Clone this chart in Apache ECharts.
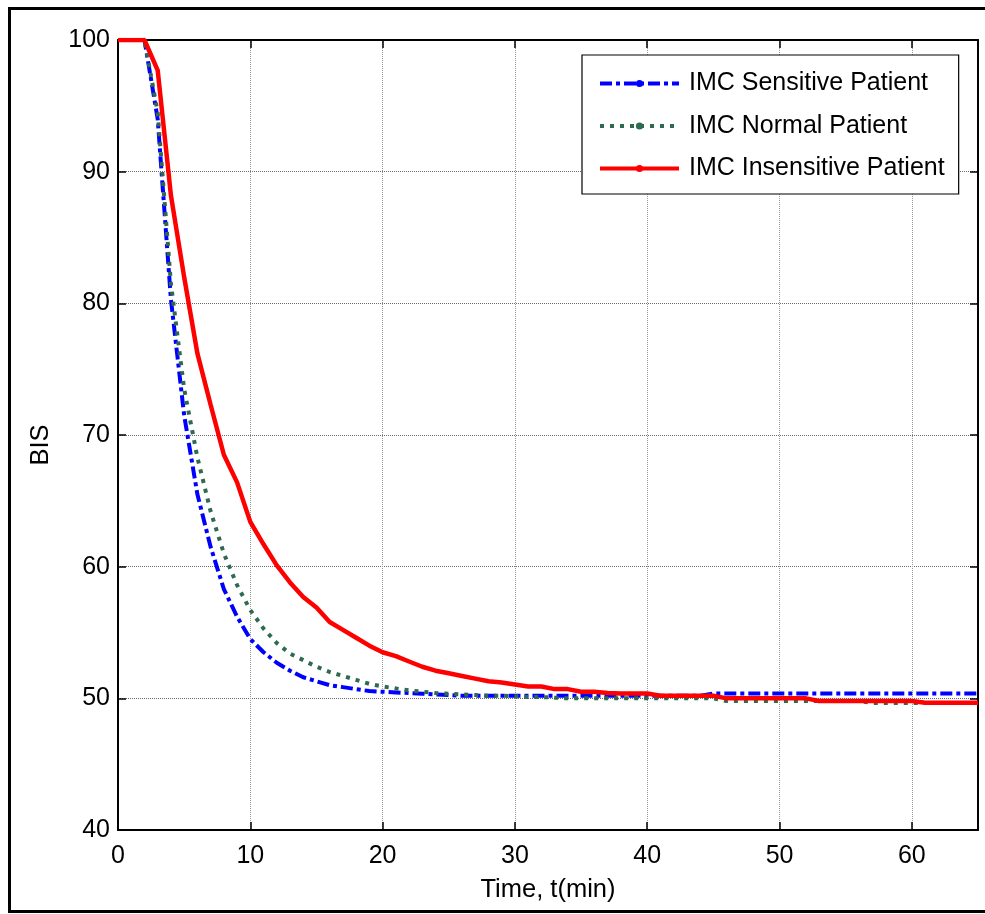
<!DOCTYPE html>
<html>
<head>
<meta charset="utf-8">
<script src="https://cdn.jsdelivr.net/npm/echarts@6/dist/echarts.min.js"></script>
<style>
html,body{margin:0;padding:0;background:#fff;}
#chart{width:985px;height:914px;}
</style>
</head>
<body>
<div id="chart"></div>
<script>
// Time (min)
var timeMin = [0,1,2,3,4,5,6,7,8,9,10,11,12,13,14,15,16,17,18,19,20,21,22,23,24,25,26,27,28,29,30,31,32,33,34,35,36,37,38,39,40,41,42,43,44,45,46,47,48,49,50,51,52,53,54,55,56,57,58,59,60,61,62,63,64,65];

var sensitiveBIS = [100,100,100,94,80.3,71.5,65.5,61.5,58.3,56.2,54.5,53.5,52.7,52.1,51.6,51.3,51.0,50.85,50.7,50.55,50.5,50.45,50.4,50.35,50.3,50.25,50.2,50.2,50.2,50.2,50.2,50.2,50.2,50.2,50.2,50.2,50.2,50.2,50.2,50.2,50.2,50.2,50.2,50.2,50.2,50.37,50.37,50.37,50.37,50.37,50.37,50.37,50.37,50.37,50.37,50.37,50.37,50.37,50.37,50.37,50.37,50.37,50.37,50.37,50.37,50.37];

var normalBIS = [100,100,100,94.5,81.5,73.5,68.3,64.2,61.0,58.6,56.7,55.3,54.2,53.4,52.9,52.4,52.0,51.7,51.4,51.1,50.9,50.75,50.6,50.5,50.4,50.35,50.3,50.25,50.2,50.2,50.15,50.1,50.1,50.05,50.0,50.0,50.0,50.0,50.0,50.0,50.0,50.0,50.0,50.0,50.0,50.0,49.8,49.8,49.8,49.8,49.8,49.8,49.8,49.8,49.8,49.8,49.8,49.65,49.65,49.65,49.65,49.65,49.65,49.65,49.65,49.65];

var insensitiveBIS = [100,100,100,97.7,88.2,82,76.2,72.3,68.5,66.4,63.4,61.7,60.1,58.8,57.7,56.9,55.8,55.2,54.6,54.0,53.5,53.2,52.8,52.4,52.1,51.9,51.7,51.5,51.3,51.2,51.05,50.9,50.9,50.7,50.7,50.5,50.5,50.4,50.37,50.37,50.37,50.2,50.2,50.2,50.2,50.2,50.0,50.0,50.0,50.0,50.0,50.0,50.0,49.8,49.8,49.8,49.8,49.8,49.8,49.8,49.8,49.66,49.66,49.66,49.66,49.66];

var seriesNames = ['IMC Sensitive Patient','IMC Normal Patient','IMC Insensitive Patient'];
var xTicks = {min:0, max:65, interval:10};
var yTicks = {min:40, max:100, interval:10};

function pairs(vals){ return timeMin.map(function(t,i){ return [t, vals[i]]; }); }

var FONT = "'Liberation Sans',Arial,sans-serif";
var chart = echarts.init(document.getElementById('chart'), null, {renderer:'canvas'});

var tickStyle = {inside:true, length:8, lineStyle:{color:'#000', width:1.5}};
var lineAx = {show:true, onZero:false, lineStyle:{color:'#000', width:2}};

chart.setOption({
  animation:false,
  backgroundColor:'#fff',
  textStyle:{fontFamily:FONT},
  grid:{left:118, right:7, top:40, bottom:84, containLabel:false},
  graphic:[{
    type:'rect', z:100, silent:true,
    shape:{x:9.5, y:8.5, width:1000, height:903},
    style:{fill:null, stroke:'#000', lineWidth:3}
  }],
  legend:{
    orient:'vertical', left:582, top:55,
    data:seriesNames,
    backgroundColor:'#fff', borderColor:'#000', borderWidth:1.2,
    padding:[13.5,14,10.5,16],
    itemWidth:79, itemHeight:9, itemGap:12.5,
    lineStyle:{width:4},
    textStyle:{fontFamily:FONT, fontSize:25, color:'#000', lineHeight:30, padding:[0,0,0,5]}
  },
  xAxis:[{
    type:'value', position:'bottom', min:xTicks.min, max:xTicks.max, interval:xTicks.interval,
    axisLine:lineAx, axisTick:tickStyle,
    axisLabel:{color:'#000', fontSize:25, fontFamily:FONT, margin:14, showMaxLabel:false},
    splitLine:{show:true, lineStyle:{color:'#9a9a9a', width:1, type:[1,1]}},
    name:'Time, t(min)', nameLocation:'middle', nameGap:47,
    nameTextStyle:{color:'#000', fontSize:25.5, fontFamily:FONT}
  },{
    type:'value', position:'top', min:xTicks.min, max:xTicks.max, interval:xTicks.interval,
    axisLine:lineAx, axisTick:tickStyle, axisLabel:{show:false}, splitLine:{show:false}
  }],
  yAxis:[{
    type:'value', position:'left', min:yTicks.min, max:yTicks.max, interval:yTicks.interval,
    axisLine:lineAx, axisTick:tickStyle,
    axisLabel:{color:'#000', fontSize:25, fontFamily:FONT, margin:8},
    splitLine:{show:true, lineStyle:{color:'#6a6a6a', width:1, type:[1,1]}},
    name:'BIS', nameLocation:'middle', nameGap:64, nameRotate:90,
    nameTextStyle:{color:'#000', fontSize:25.5, fontFamily:FONT, padding:[0,0,0,-20]}
  },{
    type:'value', position:'right', min:yTicks.min, max:yTicks.max, interval:yTicks.interval,
    axisLine:lineAx, axisTick:tickStyle, axisLabel:{show:false}, splitLine:{show:false}
  }],
  series:[{
    name:seriesNames[0], type:'line', data:pairs(sensitiveBIS),
    showSymbol:false, symbol:'circle', color:'#0000ff',
    lineStyle:{color:'#0000ff', width:4, type:[12,4,4,4]}
  },{
    name:seriesNames[1], type:'line', data:pairs(normalBIS),
    showSymbol:false, symbol:'circle', color:'#2d6a4f',
    lineStyle:{color:'#2d6a4f', width:4, type:[4,6]}
  },{
    name:seriesNames[2], type:'line', data:pairs(insensitiveBIS),
    showSymbol:false, symbol:'circle', color:'#ff0000',
    lineStyle:{color:'#ff0000', width:4.5}
  }]
});
</script>
</body>
</html>
